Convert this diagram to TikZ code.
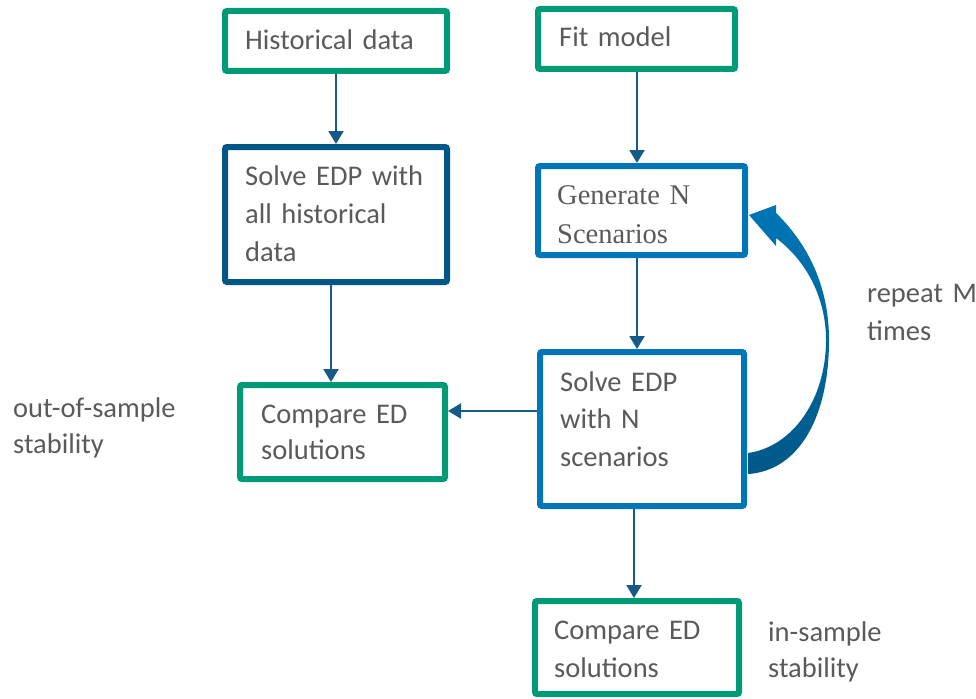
\documentclass[tikz,border=0pt]{standalone}
\usepackage{fontspec}
\setmainfont{Carlito}
\newfontfamily\serifface{Liberation Serif}
\usetikzlibrary{arrows.meta,calc}
\definecolor{cgreen}{RGB}{0,155,118}
\definecolor{cnavy}{RGB}{0,86,132}
\definecolor{cblue}{RGB}{0,118,182}
\definecolor{carrow}{RGB}{22,90,135}
\definecolor{ctext}{RGB}{90,90,90}
\definecolor{cdarkb}{RGB}{0,88,135}
\begin{document}
\begin{tikzpicture}[x=1pt,y=-1pt,
  boxshape/.style={draw, line width=6pt, rounded corners=2pt, fill=white, inner sep=0pt},
  gbox/.style={boxshape, draw=cgreen},
  nbox/.style={boxshape, draw=cnavy},
  bbox/.style={boxshape, draw=cblue},
  txt/.style={anchor=base west, inner sep=0pt, text width=220pt, align=left, text=ctext},
  conn/.style={draw=carrow, line width=2.2pt, -{Triangle[length=13pt,width=15pt]}}
]
\useasboundingbox (0,0) rectangle (976,698);

% boxes (border path centres)
\node[gbox, minimum width=222pt, minimum height=60pt] (b1) at (336,41) {};
\node[nbox, minimum width=222pt, minimum height=135pt] (b2) at (336,214.5) {};
\node[gbox, minimum width=197pt, minimum height=60pt] (b3) at (636.5,39) {};
\node[bbox, minimum width=207pt, minimum height=89pt] (b4) at (641.5,210.5) {};
\node[bbox, minimum width=204pt, minimum height=154pt] (b5) at (642,429) {};
\node[gbox, minimum width=205pt, minimum height=94pt] (b6) at (342.5,432) {};
\node[gbox, minimum width=204pt, minimum height=93pt] (b7) at (637,647.5) {};

% texts
\node[txt, font=\fontsize{28.5}{38}\selectfont] (t1) at (245,50) {Historical data};
\node[txt, font=\fontsize{28.5}{38}\selectfont] (t2) at (245,185) {Solve EDP with\\all historical\\data};
\node[txt, font=\fontsize{28.5}{38}\selectfont] (t3) at (559,47) {Fit model};
\node[txt, font=\serifface\fontsize{28.5}{39}\selectfont] (t4) at (557,204) {Generate N\\Scenarios};
\node[txt, font=\fontsize{28.5}{37.5}\selectfont] (t5) at (560,391) {Solve EDP\\with N\\scenarios};
\node[txt, font=\fontsize{28.5}{36}\selectfont] (t6) at (261,423) {Compare ED\\solutions};
\node[txt, font=\fontsize{28.5}{38}\selectfont] (t7) at (554,639) {Compare ED\\solutions};
\node[txt, font=\fontsize{28.5}{36}\selectfont] (l1) at (13,417) {out-of-sample\\stability};
\node[txt, font=\fontsize{28.5}{38}\selectfont] (l2) at (867,302) {repeat M\\times};
\node[txt, font=\fontsize{28.5}{36}\selectfont] (l3) at (768,641) {in-sample\\stability};

% connector x/y positions
\coordinate (xa) at (336,0);
\coordinate (xb) at (331,0);
\coordinate (xc) at (637,0);
\coordinate (xd) at (634,0);
\coordinate (ya) at (0,411);

\draw[conn] (b1.south -| xa) -- (b2.north -| xa);
\draw[conn] (b2.south -| xb) -- (b6.north -| xb);
\draw[conn] (b3.south -| xc) -- (b4.north -| xc);
\draw[conn] (b4.south -| xc) -- (b5.north -| xc);
\draw[conn] (b5.west |- ya) -- (b6.east |- ya);
\draw[conn] (b5.south -| xd) -- (b7.north -| xd);

% curved block arrow (repeat loop)
\shade[top color=cblue, bottom color=cdarkb]
  (749,215) -- (776,205) -- (776,213)
  .. controls (812,248) and (829,292) .. (829,340)
  .. controls (829,420) and (797,471) .. (748,474)
  -- (748,453)
  .. controls (792,447) and (826,400) .. (826,340)
  .. controls (826,300) and (808,262) .. (776,238)
  -- (776,246) -- cycle;
\end{tikzpicture}
\end{document}
